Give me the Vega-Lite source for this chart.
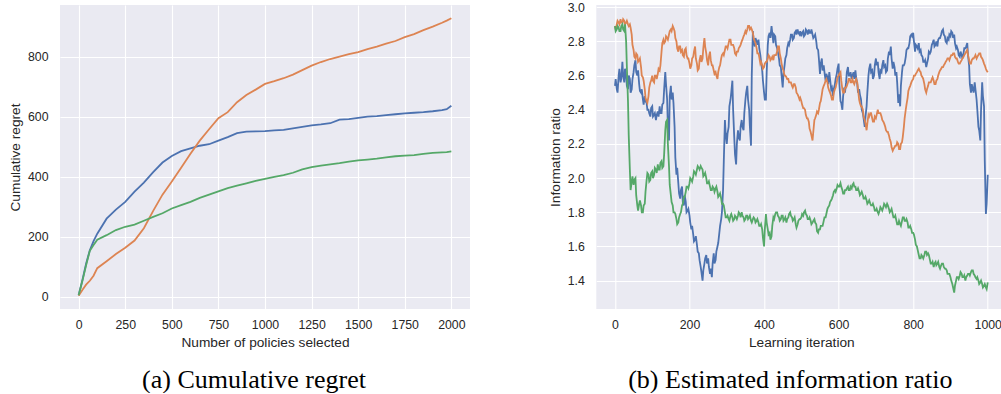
{
  "$schema": "https://vega.github.io/schema/vega-lite/v6.json",
  "background": "white",
  "padding": {"left": 8, "top": 1, "right": 0, "bottom": 0},
  "spacing": 126.3,
  "bounds": "flush",
  "config": {
    "view": {"fill": "#EAEAF2", "stroke": null},
    "axis": {
      "domain": false,
      "ticks": false,
      "tickSize": 0,
      "grid": true,
      "gridColor": "#FFFFFF",
      "gridWidth": 1.1,
      "labelFont": "Liberation Sans",
      "labelFontSize": 12.3,
      "labelColor": "#262626",
      "labelFlush": false,
      "labelOverlap": false,
      "titleFont": "Liberation Sans",
      "titleFontSize": 13.7,
      "titleFontWeight": "normal",
      "titleColor": "#262626"
    },
    "axisX": {"labelPadding": 9.5, "titlePadding": 5},
    "axisY": {"labelPadding": 12, "titlePadding": 5},
    "title": {
      "font": "Liberation Serif",
      "fontSize": 26,
      "fontWeight": "normal",
      "color": "#000000",
      "orient": "bottom",
      "anchor": "middle"
    },
    "line": {"strokeWidth": 1.8, "clip": true}
  },
  "datasets": {
    "regret": [
      {"n": 0, "s1": 5, "s2": 3, "s3": 5},
      {"n": 20, "s1": 55, "s2": 22, "s3": 52},
      {"n": 40, "s1": 110, "s2": 40, "s3": 105},
      {"n": 60, "s1": 155, "s2": 53, "s3": 153},
      {"n": 80, "s1": 185, "s2": 70, "s3": 172},
      {"n": 100, "s1": 210, "s2": 95, "s3": 190},
      {"n": 150, "s1": 260, "s2": 118, "s3": 205},
      {"n": 200, "s1": 290, "s2": 142, "s3": 222},
      {"n": 250, "s1": 316, "s2": 163, "s3": 233},
      {"n": 300, "s1": 350, "s2": 187, "s3": 240},
      {"n": 350, "s1": 380, "s2": 228, "s3": 253},
      {"n": 400, "s1": 415, "s2": 286, "s3": 266},
      {"n": 450, "s1": 447, "s2": 340, "s3": 278},
      {"n": 500, "s1": 469, "s2": 384, "s3": 294},
      {"n": 550, "s1": 485, "s2": 430, "s3": 305},
      {"n": 600, "s1": 494, "s2": 476, "s3": 316},
      {"n": 650, "s1": 503, "s2": 520, "s3": 329},
      {"n": 700, "s1": 508, "s2": 558, "s3": 340},
      {"n": 750, "s1": 520, "s2": 595, "s3": 351},
      {"n": 800, "s1": 532, "s2": 615, "s3": 362},
      {"n": 850, "s1": 545, "s2": 648, "s3": 370},
      {"n": 900, "s1": 550, "s2": 672, "s3": 378},
      {"n": 950, "s1": 551, "s2": 690, "s3": 386},
      {"n": 1000, "s1": 552, "s2": 709, "s3": 393},
      {"n": 1050, "s1": 554, "s2": 718, "s3": 399},
      {"n": 1100, "s1": 556, "s2": 728, "s3": 405},
      {"n": 1150, "s1": 561, "s2": 740, "s3": 413},
      {"n": 1200, "s1": 566, "s2": 755, "s3": 424},
      {"n": 1250, "s1": 571, "s2": 770, "s3": 432},
      {"n": 1300, "s1": 574, "s2": 782, "s3": 437},
      {"n": 1350, "s1": 578, "s2": 792, "s3": 441},
      {"n": 1400, "s1": 590, "s2": 800, "s3": 445},
      {"n": 1450, "s1": 592, "s2": 808, "s3": 450},
      {"n": 1500, "s1": 596, "s2": 815, "s3": 454},
      {"n": 1550, "s1": 600, "s2": 825, "s3": 457},
      {"n": 1600, "s1": 602, "s2": 833, "s3": 460},
      {"n": 1650, "s1": 605, "s2": 843, "s3": 464},
      {"n": 1700, "s1": 608, "s2": 852, "s3": 468},
      {"n": 1750, "s1": 611, "s2": 865, "s3": 470},
      {"n": 1800, "s1": 613, "s2": 875, "s3": 472},
      {"n": 1850, "s1": 615, "s2": 888, "s3": 476},
      {"n": 1900, "s1": 618, "s2": 900, "s3": 479},
      {"n": 1950, "s1": 622, "s2": 913, "s3": 481},
      {"n": 1975, "s1": 625, "s2": 920, "s3": 482},
      {"n": 2000, "s1": 636, "s2": 928, "s3": 484}
    ],
    "ratio": [
      {"it": 0, "s1": 2.54, "s2": 2.89, "s3": 2.89},
      {"it": 5, "s1": 2.52, "s2": 2.90, "s3": 2.87},
      {"it": 10, "s1": 2.60, "s2": 2.91, "s3": 2.88},
      {"it": 15, "s1": 2.56, "s2": 2.93, "s3": 2.86},
      {"it": 20, "s1": 2.68, "s2": 2.91, "s3": 2.90},
      {"it": 25, "s1": 2.56, "s2": 2.92, "s3": 2.86},
      {"it": 30, "s1": 2.60, "s2": 2.91, "s3": 2.80},
      {"it": 35, "s1": 2.52, "s2": 2.90, "s3": 2.45},
      {"it": 40, "s1": 2.58, "s2": 2.90, "s3": 2.05},
      {"it": 45, "s1": 2.52, "s2": 2.84, "s3": 1.98},
      {"it": 50, "s1": 2.62, "s2": 2.75, "s3": 1.96},
      {"it": 55, "s1": 2.69, "s2": 2.70, "s3": 2.00},
      {"it": 60, "s1": 2.60, "s2": 2.72, "s3": 1.84},
      {"it": 65, "s1": 2.55, "s2": 2.69, "s3": 1.85},
      {"it": 70, "s1": 2.50, "s2": 2.65, "s3": 1.84},
      {"it": 75, "s1": 2.46, "s2": 2.59, "s3": 1.80},
      {"it": 80, "s1": 2.48, "s2": 2.52, "s3": 1.85},
      {"it": 85, "s1": 2.44, "s2": 2.45, "s3": 1.99},
      {"it": 90, "s1": 2.40, "s2": 2.48, "s3": 2.02},
      {"it": 95, "s1": 2.36, "s2": 2.56, "s3": 1.99},
      {"it": 100, "s1": 2.42, "s2": 2.60, "s3": 2.04},
      {"it": 105, "s1": 2.37, "s2": 2.56, "s3": 2.02},
      {"it": 110, "s1": 2.34, "s2": 2.60, "s3": 2.05},
      {"it": 115, "s1": 2.39, "s2": 2.61, "s3": 2.08},
      {"it": 120, "s1": 2.42, "s2": 2.63, "s3": 2.05},
      {"it": 125, "s1": 2.38, "s2": 2.74, "s3": 2.10},
      {"it": 130, "s1": 2.44, "s2": 2.81, "s3": 2.07},
      {"it": 135, "s1": 2.62, "s2": 2.80, "s3": 2.28},
      {"it": 140, "s1": 2.46, "s2": 2.82, "s3": 2.34},
      {"it": 145, "s1": 2.22, "s2": 2.84, "s3": 2.07},
      {"it": 150, "s1": 2.54, "s2": 2.87, "s3": 1.90},
      {"it": 155, "s1": 2.50, "s2": 2.89, "s3": 1.84},
      {"it": 160, "s1": 2.30, "s2": 2.86, "s3": 1.80},
      {"it": 165, "s1": 2.02, "s2": 2.80, "s3": 1.76},
      {"it": 170, "s1": 1.97, "s2": 2.74, "s3": 1.74},
      {"it": 175, "s1": 1.88, "s2": 2.77, "s3": 1.79},
      {"it": 180, "s1": 1.95, "s2": 2.75, "s3": 1.84},
      {"it": 185, "s1": 1.84, "s2": 2.71, "s3": 1.89},
      {"it": 190, "s1": 1.86, "s2": 2.76, "s3": 1.92},
      {"it": 195, "s1": 1.81, "s2": 2.70, "s3": 1.95},
      {"it": 200, "s1": 1.78, "s2": 2.67, "s3": 1.97},
      {"it": 205, "s1": 1.70, "s2": 2.66, "s3": 1.99},
      {"it": 210, "s1": 1.67, "s2": 2.71, "s3": 2.01},
      {"it": 215, "s1": 1.64, "s2": 2.77, "s3": 2.03},
      {"it": 220, "s1": 1.61, "s2": 2.67, "s3": 2.05},
      {"it": 225, "s1": 1.56, "s2": 2.64, "s3": 2.06},
      {"it": 230, "s1": 1.48, "s2": 2.72, "s3": 2.07},
      {"it": 235, "s1": 1.40, "s2": 2.70, "s3": 2.05},
      {"it": 240, "s1": 1.50, "s2": 2.82, "s3": 2.02},
      {"it": 245, "s1": 1.55, "s2": 2.73, "s3": 2.00},
      {"it": 250, "s1": 1.53, "s2": 2.66, "s3": 1.97},
      {"it": 255, "s1": 1.44, "s2": 2.74, "s3": 1.95},
      {"it": 260, "s1": 1.42, "s2": 2.66, "s3": 1.93},
      {"it": 265, "s1": 1.56, "s2": 2.63, "s3": 1.94},
      {"it": 270, "s1": 1.52, "s2": 2.62, "s3": 1.94},
      {"it": 275, "s1": 1.60, "s2": 2.58, "s3": 1.92},
      {"it": 280, "s1": 1.68, "s2": 2.65, "s3": 1.90},
      {"it": 285, "s1": 1.76, "s2": 2.70, "s3": 1.88},
      {"it": 290, "s1": 1.93, "s2": 2.73, "s3": 1.85},
      {"it": 295, "s1": 2.34, "s2": 2.75, "s3": 1.80},
      {"it": 300, "s1": 2.20, "s2": 2.77, "s3": 1.77},
      {"it": 305, "s1": 2.30, "s2": 2.79, "s3": 1.76},
      {"it": 310, "s1": 2.46, "s2": 2.81, "s3": 1.78},
      {"it": 315, "s1": 2.57, "s2": 2.78, "s3": 1.77},
      {"it": 320, "s1": 2.24, "s2": 2.76, "s3": 1.76},
      {"it": 325, "s1": 2.08, "s2": 2.72, "s3": 1.77},
      {"it": 330, "s1": 2.28, "s2": 2.74, "s3": 1.78},
      {"it": 335, "s1": 2.22, "s2": 2.77, "s3": 1.79},
      {"it": 340, "s1": 2.34, "s2": 2.80, "s3": 1.80},
      {"it": 345, "s1": 2.28, "s2": 2.83, "s3": 1.77},
      {"it": 350, "s1": 2.46, "s2": 2.86, "s3": 1.76},
      {"it": 355, "s1": 2.54, "s2": 2.87, "s3": 1.78},
      {"it": 360, "s1": 2.40, "s2": 2.89, "s3": 1.77},
      {"it": 365, "s1": 2.19, "s2": 2.88, "s3": 1.75},
      {"it": 370, "s1": 2.86, "s2": 2.85, "s3": 1.76},
      {"it": 375, "s1": 2.77, "s2": 2.80, "s3": 1.76},
      {"it": 380, "s1": 2.80, "s2": 2.76, "s3": 1.75},
      {"it": 385, "s1": 2.81, "s2": 2.73, "s3": 1.74},
      {"it": 390, "s1": 2.72, "s2": 2.67, "s3": 1.72},
      {"it": 395, "s1": 2.63, "s2": 2.66, "s3": 1.70},
      {"it": 400, "s1": 2.50, "s2": 2.65, "s3": 1.60},
      {"it": 405, "s1": 2.46, "s2": 2.68, "s3": 1.79},
      {"it": 410, "s1": 2.78, "s2": 2.70, "s3": 1.70},
      {"it": 415, "s1": 2.85, "s2": 2.71, "s3": 1.68},
      {"it": 420, "s1": 2.89, "s2": 2.70, "s3": 1.66},
      {"it": 425, "s1": 2.79, "s2": 2.69, "s3": 1.77},
      {"it": 430, "s1": 2.83, "s2": 2.72, "s3": 1.79},
      {"it": 435, "s1": 2.76, "s2": 2.74, "s3": 1.80},
      {"it": 440, "s1": 2.70, "s2": 2.77, "s3": 1.77},
      {"it": 445, "s1": 2.65, "s2": 2.70, "s3": 1.76},
      {"it": 450, "s1": 2.53, "s2": 2.64, "s3": 1.78},
      {"it": 455, "s1": 2.66, "s2": 2.60, "s3": 1.76},
      {"it": 460, "s1": 2.72, "s2": 2.59, "s3": 1.74},
      {"it": 465, "s1": 2.79, "s2": 2.58, "s3": 1.77},
      {"it": 470, "s1": 2.81, "s2": 2.56, "s3": 1.80},
      {"it": 475, "s1": 2.84, "s2": 2.54, "s3": 1.77},
      {"it": 480, "s1": 2.82, "s2": 2.55, "s3": 1.76},
      {"it": 485, "s1": 2.86, "s2": 2.53, "s3": 1.73},
      {"it": 490, "s1": 2.87, "s2": 2.49, "s3": 1.73},
      {"it": 495, "s1": 2.84, "s2": 2.46, "s3": 1.76},
      {"it": 500, "s1": 2.83, "s2": 2.45, "s3": 1.77},
      {"it": 505, "s1": 2.86, "s2": 2.41, "s3": 1.78},
      {"it": 510, "s1": 2.84, "s2": 2.40, "s3": 1.81},
      {"it": 515, "s1": 2.86, "s2": 2.35, "s3": 1.78},
      {"it": 520, "s1": 2.87, "s2": 2.33, "s3": 1.76},
      {"it": 525, "s1": 2.85, "s2": 2.27, "s3": 1.75},
      {"it": 530, "s1": 2.84, "s2": 2.22, "s3": 1.74},
      {"it": 535, "s1": 2.83, "s2": 2.34, "s3": 1.76},
      {"it": 540, "s1": 2.80, "s2": 2.37, "s3": 1.73},
      {"it": 545, "s1": 2.75, "s2": 2.38, "s3": 1.68},
      {"it": 550, "s1": 2.61, "s2": 2.44, "s3": 1.70},
      {"it": 555, "s1": 2.70, "s2": 2.49, "s3": 1.72},
      {"it": 560, "s1": 2.66, "s2": 2.54, "s3": 1.75},
      {"it": 565, "s1": 2.57, "s2": 2.57, "s3": 1.77},
      {"it": 570, "s1": 2.59, "s2": 2.56, "s3": 1.82},
      {"it": 575, "s1": 2.62, "s2": 2.51, "s3": 1.84},
      {"it": 580, "s1": 2.52, "s2": 2.48, "s3": 1.87},
      {"it": 585, "s1": 2.48, "s2": 2.46, "s3": 1.90},
      {"it": 590, "s1": 2.55, "s2": 2.52, "s3": 1.93},
      {"it": 595, "s1": 2.61, "s2": 2.56, "s3": 1.94},
      {"it": 600, "s1": 2.67, "s2": 2.60, "s3": 1.95},
      {"it": 605, "s1": 2.45, "s2": 2.62, "s3": 1.97},
      {"it": 610, "s1": 2.40, "s2": 2.52, "s3": 1.93},
      {"it": 615, "s1": 2.53, "s2": 2.50, "s3": 1.91},
      {"it": 620, "s1": 2.56, "s2": 2.53, "s3": 1.93},
      {"it": 625, "s1": 2.65, "s2": 2.56, "s3": 1.95},
      {"it": 630, "s1": 2.60, "s2": 2.58, "s3": 1.93},
      {"it": 635, "s1": 2.58, "s2": 2.56, "s3": 1.94},
      {"it": 640, "s1": 2.62, "s2": 2.56, "s3": 1.97},
      {"it": 645, "s1": 2.63, "s2": 2.57, "s3": 1.95},
      {"it": 650, "s1": 2.55, "s2": 2.56, "s3": 1.93},
      {"it": 655, "s1": 2.52, "s2": 2.46, "s3": 1.92},
      {"it": 660, "s1": 2.46, "s2": 2.42, "s3": 1.91},
      {"it": 665, "s1": 2.38, "s2": 2.40, "s3": 1.90},
      {"it": 670, "s1": 2.30, "s2": 2.34, "s3": 1.88},
      {"it": 675, "s1": 2.42, "s2": 2.28, "s3": 1.87},
      {"it": 680, "s1": 2.60, "s2": 2.37, "s3": 1.86},
      {"it": 685, "s1": 2.67, "s2": 2.38, "s3": 1.85},
      {"it": 690, "s1": 2.63, "s2": 2.35, "s3": 1.84},
      {"it": 695, "s1": 2.60, "s2": 2.33, "s3": 1.83},
      {"it": 700, "s1": 2.70, "s2": 2.35, "s3": 1.81},
      {"it": 705, "s1": 2.68, "s2": 2.40, "s3": 1.80},
      {"it": 710, "s1": 2.58, "s2": 2.38, "s3": 1.81},
      {"it": 715, "s1": 2.62, "s2": 2.36, "s3": 1.82},
      {"it": 720, "s1": 2.69, "s2": 2.33, "s3": 1.83},
      {"it": 725, "s1": 2.66, "s2": 2.30, "s3": 1.84},
      {"it": 730, "s1": 2.63, "s2": 2.27, "s3": 1.85},
      {"it": 735, "s1": 2.74, "s2": 2.25, "s3": 1.82},
      {"it": 740, "s1": 2.77, "s2": 2.21, "s3": 1.81},
      {"it": 745, "s1": 2.64, "s2": 2.16, "s3": 1.79},
      {"it": 750, "s1": 2.65, "s2": 2.18, "s3": 1.77},
      {"it": 755, "s1": 2.62, "s2": 2.19, "s3": 1.75},
      {"it": 760, "s1": 2.44, "s2": 2.20, "s3": 1.73},
      {"it": 765, "s1": 2.42, "s2": 2.17, "s3": 1.73},
      {"it": 770, "s1": 2.62, "s2": 2.21, "s3": 1.75},
      {"it": 775, "s1": 2.66, "s2": 2.30, "s3": 1.77},
      {"it": 780, "s1": 2.71, "s2": 2.40, "s3": 1.75},
      {"it": 785, "s1": 2.76, "s2": 2.47, "s3": 1.74},
      {"it": 790, "s1": 2.79, "s2": 2.53, "s3": 1.71},
      {"it": 795, "s1": 2.84, "s2": 2.56, "s3": 1.70},
      {"it": 800, "s1": 2.85, "s2": 2.58, "s3": 1.68},
      {"it": 805, "s1": 2.74, "s2": 2.60, "s3": 1.64},
      {"it": 810, "s1": 2.77, "s2": 2.62, "s3": 1.60},
      {"it": 815, "s1": 2.79, "s2": 2.64, "s3": 1.55},
      {"it": 820, "s1": 2.75, "s2": 2.62, "s3": 1.53},
      {"it": 825, "s1": 2.71, "s2": 2.59, "s3": 1.54},
      {"it": 830, "s1": 2.68, "s2": 2.55, "s3": 1.55},
      {"it": 835, "s1": 2.65, "s2": 2.50, "s3": 1.57},
      {"it": 840, "s1": 2.70, "s2": 2.54, "s3": 1.56},
      {"it": 845, "s1": 2.73, "s2": 2.56, "s3": 1.52},
      {"it": 850, "s1": 2.78, "s2": 2.58, "s3": 1.50},
      {"it": 855, "s1": 2.81, "s2": 2.57, "s3": 1.48},
      {"it": 860, "s1": 2.78, "s2": 2.55, "s3": 1.51},
      {"it": 865, "s1": 2.77, "s2": 2.58, "s3": 1.50},
      {"it": 870, "s1": 2.82, "s2": 2.62, "s3": 1.48},
      {"it": 875, "s1": 2.84, "s2": 2.64, "s3": 1.49},
      {"it": 880, "s1": 2.87, "s2": 2.65, "s3": 1.50},
      {"it": 885, "s1": 2.83, "s2": 2.67, "s3": 1.47},
      {"it": 890, "s1": 2.79, "s2": 2.69, "s3": 1.46},
      {"it": 895, "s1": 2.81, "s2": 2.70, "s3": 1.44},
      {"it": 900, "s1": 2.83, "s2": 2.71, "s3": 1.42},
      {"it": 905, "s1": 2.85, "s2": 2.72, "s3": 1.38},
      {"it": 910, "s1": 2.84, "s2": 2.73, "s3": 1.33},
      {"it": 915, "s1": 2.76, "s2": 2.70, "s3": 1.40},
      {"it": 920, "s1": 2.75, "s2": 2.68, "s3": 1.42},
      {"it": 925, "s1": 2.71, "s2": 2.67, "s3": 1.43},
      {"it": 930, "s1": 2.72, "s2": 2.69, "s3": 1.44},
      {"it": 935, "s1": 2.73, "s2": 2.71, "s3": 1.42},
      {"it": 940, "s1": 2.76, "s2": 2.73, "s3": 1.40},
      {"it": 945, "s1": 2.79, "s2": 2.75, "s3": 1.43},
      {"it": 950, "s1": 2.66, "s2": 2.69, "s3": 1.44},
      {"it": 955, "s1": 2.50, "s2": 2.67, "s3": 1.45},
      {"it": 960, "s1": 2.52, "s2": 2.70, "s3": 1.46},
      {"it": 965, "s1": 2.56, "s2": 2.71, "s3": 1.43},
      {"it": 970, "s1": 2.46, "s2": 2.70, "s3": 1.41},
      {"it": 975, "s1": 2.30, "s2": 2.72, "s3": 1.40},
      {"it": 980, "s1": 2.22, "s2": 2.73, "s3": 1.39},
      {"it": 985, "s1": 2.56, "s2": 2.70, "s3": 1.38},
      {"it": 990, "s1": 2.42, "s2": 2.67, "s3": 1.37},
      {"it": 995, "s1": 1.79, "s2": 2.64, "s3": 1.36},
      {"it": 1000, "s1": 2.02, "s2": 2.62, "s3": 1.39},
      {"it": 2, "s1": 2.58, "s2": 2.87, "s3": 2.86},
      {"it": 7, "s1": 2.50, "s2": 2.92, "s3": 2.89},
      {"it": 12, "s1": 2.64, "s2": 2.90, "s3": 2.86},
      {"it": 17, "s1": 2.58, "s2": 2.91, "s3": 2.89},
      {"it": 22, "s1": 2.60, "s2": 2.93, "s3": 2.87},
      {"it": 27, "s1": 2.64, "s2": 2.90, "s3": 2.90},
      {"it": 32, "s1": 2.54, "s2": 2.92, "s3": 2.65},
      {"it": 37, "s1": 2.60, "s2": 2.89, "s3": 2.25},
      {"it": 42, "s1": 2.50, "s2": 2.88, "s3": 1.93},
      {"it": 47, "s1": 2.58, "s2": 2.78, "s3": 2.01},
      {"it": 52, "s1": 2.66, "s2": 2.71, "s3": 1.99},
      {"it": 57, "s1": 2.62, "s2": 2.73, "s3": 1.90},
      {"it": 62, "s1": 2.63, "s2": 2.68, "s3": 1.81},
      {"it": 67, "s1": 2.51, "s2": 2.70, "s3": 1.87},
      {"it": 72, "s1": 2.52, "s2": 2.60, "s3": 1.80},
      {"it": 77, "s1": 2.43, "s2": 2.57, "s3": 1.84},
      {"it": 82, "s1": 2.45, "s2": 2.47, "s3": 1.92},
      {"it": 87, "s1": 2.40, "s2": 2.44, "s3": 2.03},
      {"it": 92, "s1": 2.38, "s2": 2.53, "s3": 1.98},
      {"it": 97, "s1": 2.41, "s2": 2.57, "s3": 2.03},
      {"it": 102, "s1": 2.36, "s2": 2.57, "s3": 2.00},
      {"it": 107, "s1": 2.38, "s2": 2.60, "s3": 2.06},
      {"it": 112, "s1": 2.37, "s2": 2.58, "s3": 2.03},
      {"it": 117, "s1": 2.36, "s2": 2.64, "s3": 2.05},
      {"it": 122, "s1": 2.38, "s2": 2.66, "s3": 2.09},
      {"it": 127, "s1": 2.43, "s2": 2.79, "s3": 2.06},
      {"it": 132, "s1": 2.52, "s2": 2.79, "s3": 2.14},
      {"it": 137, "s1": 2.55, "s2": 2.83, "s3": 2.33},
      {"it": 142, "s1": 2.30, "s2": 2.81, "s3": 2.20},
      {"it": 147, "s1": 2.48, "s2": 2.86, "s3": 1.96},
      {"it": 152, "s1": 2.46, "s2": 2.86, "s3": 1.86},
      {"it": 157, "s1": 2.44, "s2": 2.88, "s3": 1.80},
      {"it": 162, "s1": 2.12, "s2": 2.82, "s3": 1.79},
      {"it": 167, "s1": 2.06, "s2": 2.76, "s3": 1.73},
      {"it": 172, "s1": 1.91, "s2": 2.77, "s3": 1.77},
      {"it": 177, "s1": 1.93, "s2": 2.74, "s3": 1.80},
      {"it": 182, "s1": 1.86, "s2": 2.72, "s3": 1.85},
      {"it": 187, "s1": 1.90, "s2": 2.75, "s3": 1.89},
      {"it": 192, "s1": 1.80, "s2": 2.72, "s3": 1.95},
      {"it": 197, "s1": 1.82, "s2": 2.70, "s3": 1.94},
      {"it": 202, "s1": 1.74, "s2": 2.64, "s3": 2.00},
      {"it": 207, "s1": 1.72, "s2": 2.70, "s3": 1.98},
      {"it": 212, "s1": 1.63, "s2": 2.74, "s3": 2.04},
      {"it": 217, "s1": 1.66, "s2": 2.70, "s3": 2.02},
      {"it": 222, "s1": 1.57, "s2": 2.63, "s3": 2.07},
      {"it": 227, "s1": 1.52, "s2": 2.69, "s3": 2.05},
      {"it": 232, "s1": 1.45, "s2": 2.68, "s3": 2.06},
      {"it": 237, "s1": 1.46, "s2": 2.76, "s3": 2.01},
      {"it": 242, "s1": 1.53, "s2": 2.77, "s3": 2.03},
      {"it": 247, "s1": 1.50, "s2": 2.69, "s3": 1.97},
      {"it": 252, "s1": 1.48, "s2": 2.71, "s3": 1.98},
      {"it": 257, "s1": 1.47, "s2": 2.69, "s3": 1.93},
      {"it": 262, "s1": 1.50, "s2": 2.66, "s3": 1.95},
      {"it": 267, "s1": 1.50, "s2": 2.61, "s3": 1.92},
      {"it": 272, "s1": 1.57, "s2": 2.60, "s3": 1.95},
      {"it": 277, "s1": 1.62, "s2": 2.62, "s3": 1.89},
      {"it": 282, "s1": 1.72, "s2": 2.66, "s3": 1.91},
      {"it": 287, "s1": 1.80, "s2": 2.72, "s3": 1.85},
      {"it": 292, "s1": 2.10, "s2": 2.72, "s3": 1.84},
      {"it": 297, "s1": 2.26, "s2": 2.77, "s3": 1.77},
      {"it": 302, "s1": 2.26, "s2": 2.76, "s3": 1.78},
      {"it": 307, "s1": 2.42, "s2": 2.81, "s3": 1.75},
      {"it": 312, "s1": 2.50, "s2": 2.78, "s3": 1.79},
      {"it": 317, "s1": 2.40, "s2": 2.78, "s3": 1.75},
      {"it": 322, "s1": 2.14, "s2": 2.73, "s3": 1.78},
      {"it": 327, "s1": 2.20, "s2": 2.74, "s3": 1.76},
      {"it": 332, "s1": 2.24, "s2": 2.76, "s3": 1.80},
      {"it": 337, "s1": 2.30, "s2": 2.78, "s3": 1.77},
      {"it": 342, "s1": 2.30, "s2": 2.81, "s3": 1.78},
      {"it": 347, "s1": 2.38, "s2": 2.84, "s3": 1.75},
      {"it": 352, "s1": 2.50, "s2": 2.85, "s3": 1.78},
      {"it": 357, "s1": 2.46, "s2": 2.89, "s3": 1.76},
      {"it": 362, "s1": 2.30, "s2": 2.87, "s3": 1.78},
      {"it": 367, "s1": 2.60, "s2": 2.87, "s3": 1.74},
      {"it": 372, "s1": 2.80, "s2": 2.82, "s3": 1.77},
      {"it": 377, "s1": 2.82, "s2": 2.79, "s3": 1.74},
      {"it": 382, "s1": 2.78, "s2": 2.73, "s3": 1.76},
      {"it": 387, "s1": 2.76, "s2": 2.71, "s3": 1.72},
      {"it": 392, "s1": 2.68, "s2": 2.68, "s3": 1.73},
      {"it": 397, "s1": 2.57, "s2": 2.64, "s3": 1.65},
      {"it": 402, "s1": 2.46, "s2": 2.67, "s3": 1.70},
      {"it": 407, "s1": 2.62, "s2": 2.68, "s3": 1.74},
      {"it": 412, "s1": 2.83, "s2": 2.72, "s3": 1.67},
      {"it": 417, "s1": 2.82, "s2": 2.69, "s3": 1.64},
      {"it": 422, "s1": 2.85, "s2": 2.71, "s3": 1.72},
      {"it": 427, "s1": 2.84, "s2": 2.72, "s3": 1.76},
      {"it": 432, "s1": 2.78, "s2": 2.72, "s3": 1.80},
      {"it": 437, "s1": 2.74, "s2": 2.77, "s3": 1.78},
      {"it": 442, "s1": 2.66, "s2": 2.73, "s3": 1.75},
      {"it": 447, "s1": 2.60, "s2": 2.67, "s3": 1.78},
      {"it": 452, "s1": 2.61, "s2": 2.63, "s3": 1.75},
      {"it": 457, "s1": 2.70, "s2": 2.60, "s3": 1.77},
      {"it": 462, "s1": 2.76, "s2": 2.58, "s3": 1.76},
      {"it": 467, "s1": 2.78, "s2": 2.56, "s3": 1.79},
      {"it": 472, "s1": 2.84, "s2": 2.56, "s3": 1.78},
      {"it": 477, "s1": 2.81, "s2": 2.53, "s3": 1.75},
      {"it": 482, "s1": 2.85, "s2": 2.55, "s3": 1.77},
      {"it": 487, "s1": 2.84, "s2": 2.50, "s3": 1.71},
      {"it": 492, "s1": 2.85, "s2": 2.48, "s3": 1.75},
      {"it": 497, "s1": 2.86, "s2": 2.47, "s3": 1.76},
      {"it": 502, "s1": 2.85, "s2": 2.43, "s3": 1.79},
      {"it": 507, "s1": 2.83, "s2": 2.41, "s3": 1.80},
      {"it": 512, "s1": 2.87, "s2": 2.37, "s3": 1.79},
      {"it": 517, "s1": 2.84, "s2": 2.35, "s3": 1.76},
      {"it": 522, "s1": 2.85, "s2": 2.29, "s3": 1.77},
      {"it": 527, "s1": 2.87, "s2": 2.25, "s3": 1.73},
      {"it": 532, "s1": 2.82, "s2": 2.27, "s3": 1.75},
      {"it": 537, "s1": 2.84, "s2": 2.35, "s3": 1.74},
      {"it": 542, "s1": 2.76, "s2": 2.39, "s3": 1.69},
      {"it": 547, "s1": 2.70, "s2": 2.40, "s3": 1.70},
      {"it": 552, "s1": 2.67, "s2": 2.45, "s3": 1.72},
      {"it": 557, "s1": 2.63, "s2": 2.52, "s3": 1.72},
      {"it": 562, "s1": 2.62, "s2": 2.55, "s3": 1.77},
      {"it": 567, "s1": 2.61, "s2": 2.58, "s3": 1.79},
      {"it": 572, "s1": 2.55, "s2": 2.53, "s3": 1.83},
      {"it": 577, "s1": 2.58, "s2": 2.50, "s3": 1.86},
      {"it": 582, "s1": 2.53, "s2": 2.46, "s3": 1.88},
      {"it": 587, "s1": 2.52, "s2": 2.50, "s3": 1.92},
      {"it": 592, "s1": 2.58, "s2": 2.53, "s3": 1.92},
      {"it": 597, "s1": 2.64, "s2": 2.59, "s3": 1.96},
      {"it": 602, "s1": 2.55, "s2": 2.61, "s3": 1.95},
      {"it": 607, "s1": 2.44, "s2": 2.57, "s3": 1.95},
      {"it": 612, "s1": 2.48, "s2": 2.50, "s3": 1.91},
      {"it": 617, "s1": 2.50, "s2": 2.53, "s3": 1.93},
      {"it": 622, "s1": 2.62, "s2": 2.54, "s3": 1.94},
      {"it": 627, "s1": 2.60, "s2": 2.58, "s3": 1.93},
      {"it": 632, "s1": 2.62, "s2": 2.56, "s3": 1.95},
      {"it": 637, "s1": 2.60, "s2": 2.58, "s3": 1.96},
      {"it": 642, "s1": 2.58, "s2": 2.55, "s3": 1.95},
      {"it": 647, "s1": 2.59, "s2": 2.58, "s3": 1.93},
      {"it": 652, "s1": 2.50, "s2": 2.52, "s3": 1.94},
      {"it": 657, "s1": 2.49, "s2": 2.44, "s3": 1.90},
      {"it": 662, "s1": 2.40, "s2": 2.42, "s3": 1.92},
      {"it": 667, "s1": 2.35, "s2": 2.36, "s3": 1.88},
      {"it": 672, "s1": 2.36, "s2": 2.32, "s3": 1.89},
      {"it": 677, "s1": 2.50, "s2": 2.32, "s3": 1.85},
      {"it": 682, "s1": 2.64, "s2": 2.36, "s3": 1.87},
      {"it": 687, "s1": 2.62, "s2": 2.38, "s3": 1.84},
      {"it": 692, "s1": 2.58, "s2": 2.33, "s3": 1.85},
      {"it": 697, "s1": 2.66, "s2": 2.36, "s3": 1.81},
      {"it": 702, "s1": 2.66, "s2": 2.37, "s3": 1.82},
      {"it": 707, "s1": 2.62, "s2": 2.38, "s3": 1.79},
      {"it": 712, "s1": 2.63, "s2": 2.38, "s3": 1.83},
      {"it": 717, "s1": 2.66, "s2": 2.34, "s3": 1.81},
      {"it": 722, "s1": 2.65, "s2": 2.32, "s3": 1.85},
      {"it": 727, "s1": 2.62, "s2": 2.28, "s3": 1.83},
      {"it": 732, "s1": 2.70, "s2": 2.27, "s3": 1.84},
      {"it": 737, "s1": 2.72, "s2": 2.23, "s3": 1.80},
      {"it": 742, "s1": 2.70, "s2": 2.18, "s3": 1.82},
      {"it": 747, "s1": 2.68, "s2": 2.17, "s3": 1.77},
      {"it": 752, "s1": 2.60, "s2": 2.19, "s3": 1.78},
      {"it": 757, "s1": 2.56, "s2": 2.21, "s3": 1.73},
      {"it": 762, "s1": 2.49, "s2": 2.17, "s3": 1.75},
      {"it": 767, "s1": 2.54, "s2": 2.20, "s3": 1.72},
      {"it": 772, "s1": 2.66, "s2": 2.24, "s3": 1.77},
      {"it": 777, "s1": 2.67, "s2": 2.35, "s3": 1.75},
      {"it": 782, "s1": 2.75, "s2": 2.43, "s3": 1.76},
      {"it": 787, "s1": 2.76, "s2": 2.51, "s3": 1.71},
      {"it": 792, "s1": 2.83, "s2": 2.54, "s3": 1.72},
      {"it": 797, "s1": 2.83, "s2": 2.57, "s3": 1.68},
      {"it": 802, "s1": 2.80, "s2": 2.60, "s3": 1.67},
      {"it": 807, "s1": 2.78, "s2": 2.61, "s3": 1.61},
      {"it": 812, "s1": 2.76, "s2": 2.63, "s3": 1.58},
      {"it": 817, "s1": 2.74, "s2": 2.63, "s3": 1.53},
      {"it": 822, "s1": 2.72, "s2": 2.60, "s3": 1.55},
      {"it": 827, "s1": 2.68, "s2": 2.58, "s3": 1.53},
      {"it": 832, "s1": 2.69, "s2": 2.52, "s3": 1.57},
      {"it": 837, "s1": 2.67, "s2": 2.52, "s3": 1.55},
      {"it": 842, "s1": 2.74, "s2": 2.56, "s3": 1.55},
      {"it": 847, "s1": 2.74, "s2": 2.56, "s3": 1.50},
      {"it": 852, "s1": 2.79, "s2": 2.59, "s3": 1.51},
      {"it": 857, "s1": 2.77, "s2": 2.55, "s3": 1.50},
      {"it": 862, "s1": 2.80, "s2": 2.57, "s3": 1.49},
      {"it": 867, "s1": 2.81, "s2": 2.60, "s3": 1.51},
      {"it": 872, "s1": 2.82, "s2": 2.63, "s3": 1.47},
      {"it": 877, "s1": 2.86, "s2": 2.65, "s3": 1.50},
      {"it": 882, "s1": 2.84, "s2": 2.66, "s3": 1.48},
      {"it": 887, "s1": 2.80, "s2": 2.68, "s3": 1.47},
      {"it": 892, "s1": 2.82, "s2": 2.70, "s3": 1.44},
      {"it": 897, "s1": 2.84, "s2": 2.69, "s3": 1.44},
      {"it": 902, "s1": 2.86, "s2": 2.72, "s3": 1.40},
      {"it": 907, "s1": 2.82, "s2": 2.73, "s3": 1.36},
      {"it": 912, "s1": 2.79, "s2": 2.71, "s3": 1.37},
      {"it": 917, "s1": 2.77, "s2": 2.70, "s3": 1.42},
      {"it": 922, "s1": 2.72, "s2": 2.67, "s3": 1.41},
      {"it": 927, "s1": 2.74, "s2": 2.68, "s3": 1.45},
      {"it": 932, "s1": 2.70, "s2": 2.70, "s3": 1.42},
      {"it": 937, "s1": 2.76, "s2": 2.72, "s3": 1.43},
      {"it": 942, "s1": 2.77, "s2": 2.74, "s3": 1.42},
      {"it": 947, "s1": 2.72, "s2": 2.72, "s3": 1.44},
      {"it": 952, "s1": 2.55, "s2": 2.67, "s3": 1.43},
      {"it": 957, "s1": 2.55, "s2": 2.69, "s3": 1.46},
      {"it": 962, "s1": 2.50, "s2": 2.70, "s3": 1.44},
      {"it": 967, "s1": 2.52, "s2": 2.72, "s3": 1.42},
      {"it": 972, "s1": 2.40, "s2": 2.71, "s3": 1.42},
      {"it": 977, "s1": 2.28, "s2": 2.73, "s3": 1.38},
      {"it": 982, "s1": 2.40, "s2": 2.71, "s3": 1.40},
      {"it": 987, "s1": 2.48, "s2": 2.69, "s3": 1.36},
      {"it": 992, "s1": 2.10, "s2": 2.66, "s3": 1.38},
      {"it": 997, "s1": 1.85, "s2": 2.63, "s3": 1.35}
    ]
  },
  "hconcat": [
    {
      "width": 410,
      "height": 304,
      "title": {"text": "(a) Cumulative regret", "offset": 17, "dx": -11},
      "data": {"name": "regret"},
      "transform": [{"fold": ["s1", "s2", "s3"], "as": ["series", "value"]}],
      "mark": {"type": "line"},
      "encoding": {
        "x": {
          "field": "n",
          "type": "quantitative",
          "scale": {"domain": [-100, 2100], "nice": false, "zero": false},
          "axis": {"title": "Number of policies selected", "values": [0, 250, 500, 750, 1000, 1250, 1500, 1750, 2000], "format": "d"}
        },
        "y": {
          "field": "value",
          "type": "quantitative",
          "scale": {"domain": [-41, 972], "nice": false, "zero": false},
          "axis": {"title": "Cumulative regret", "values": [0, 200, 400, 600, 800], "format": "d"}
        },
        "color": {
          "field": "series",
          "type": "nominal",
          "scale": {"domain": ["s1", "s2", "s3"], "range": ["#4C72B0", "#DD8452", "#55A868"]},
          "legend": null
        }
      }
    },
    {
      "width": 406,
      "height": 304,
      "title": {"text": "(b) Estimated information ratio", "offset": 17, "dx": -9},
      "data": {"name": "ratio"},
      "transform": [{"fold": ["s1", "s2", "s3"], "as": ["series", "value"]}],
      "mark": {"type": "line"},
      "encoding": {
        "x": {
          "field": "it",
          "type": "quantitative",
          "scale": {"domain": [-50, 1039], "nice": false, "zero": false},
          "axis": {"title": "Learning iteration", "values": [0, 200, 400, 600, 800, 1000], "format": "d", "titleX": 205}
        },
        "y": {
          "field": "value",
          "type": "quantitative",
          "scale": {"domain": [1.234, 3.013], "nice": false, "zero": false},
          "axis": {"title": "Information ratio", "values": [1.4, 1.6, 1.8, 2.0, 2.2, 2.4, 2.6, 2.8, 3.0], "format": ".1f"}
        },
        "color": {
          "field": "series",
          "type": "nominal",
          "scale": {"domain": ["s1", "s2", "s3"], "range": ["#4C72B0", "#DD8452", "#55A868"]},
          "legend": null
        }
      }
    }
  ]
}
